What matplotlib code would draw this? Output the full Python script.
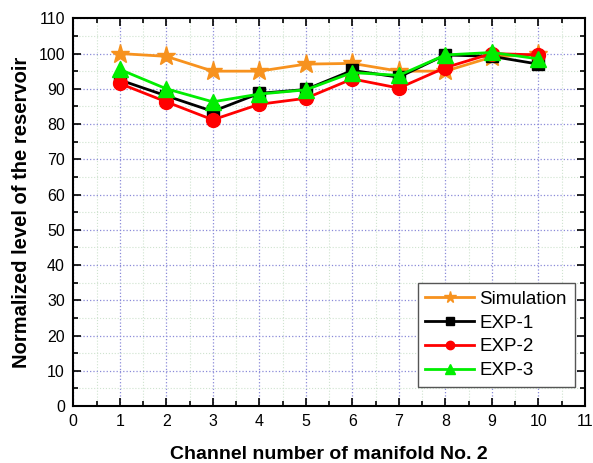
import matplotlib
matplotlib.use("Agg")
import matplotlib.pyplot as plt
from matplotlib.ticker import MultipleLocator

plt.rcParams['font.family'] = ['Liberation Sans', 'DejaVu Sans']

channels = [1, 2, 3, 4, 5, 6, 7, 8, 9, 10]
simulation = [100, 99.2, 95, 95, 97, 97.2, 95, 95, 99, 99.8]
exp1 = [92.5, 88, 83.6, 88.7, 89.8, 95.2, 93.3, 99.6, 99.2, 97]
exp2 = [91.5, 86.3, 81.2, 85.6, 87.3, 92.8, 90.2, 96, 100, 99.6]
exp3 = [95.5, 90, 86.3, 88.5, 89.7, 94.6, 93.8, 99.6, 100.3, 98.5]

x_ticks = list(range(0, 12))
y_ticks = list(range(0, 111, 10))

fig = plt.figure(figsize=(5.93, 4.63), dpi=100)
ax = fig.add_axes([0.1236, 0.1231, 0.8626, 0.8374])

ax.plot(channels, simulation, color='#f7921e', lw=2, marker='*', ms=14,
        label='Simulation', zorder=3)
ax.plot(channels, exp1, color='black', lw=2, marker='s', ms=9,
        label='EXP-1', zorder=4)
ax.plot(channels, exp2, color='#ff0000', lw=2, marker='o', ms=10,
        label='EXP-2', zorder=5)
ax.plot(channels, exp3, color='#00ee00', lw=2, marker='^', ms=11,
        label='EXP-3', zorder=6)

ax.set_xlim(0, 11)
ax.set_ylim(0, 110)
ax.set_xticks(x_ticks)
ax.set_yticks(y_ticks)
ax.xaxis.set_minor_locator(MultipleLocator(0.5))
ax.yaxis.set_minor_locator(MultipleLocator(5))

ax.grid(which='major', color='#8a8ad8', linestyle=':', linewidth=0.9)
ax.grid(which='minor', color='#cfe3cf', linestyle=':', linewidth=0.8)
ax.set_axisbelow(True)

ax.tick_params(which='both', direction='in', top=True, right=True,
               labelsize=11.5, width=1.2, pad=6)
ax.tick_params(which='major', length=6)
ax.tick_params(which='minor', length=3.5)
for s in ax.spines.values():
    s.set_linewidth(1.5)

ax.set_xlabel('Channel number of manifold No. 2', fontsize=14,
              fontweight='bold', labelpad=12)
ax.set_ylabel('Normalized level of the reservoir', fontsize=14.5,
              fontweight='bold', labelpad=5)

leg = ax.legend(loc='lower right', bbox_to_anchor=(0.98, 0.05),
                fontsize=13.5, handlelength=2.6, fancybox=False,
                edgecolor='#555555', framealpha=1, borderpad=0.4,
                labelspacing=0.35, handletextpad=0.3, borderaxespad=0,
                markerscale=0.6)
leg.get_frame().set_linewidth(1.0)

fig.savefig('out.png', dpi=100)
